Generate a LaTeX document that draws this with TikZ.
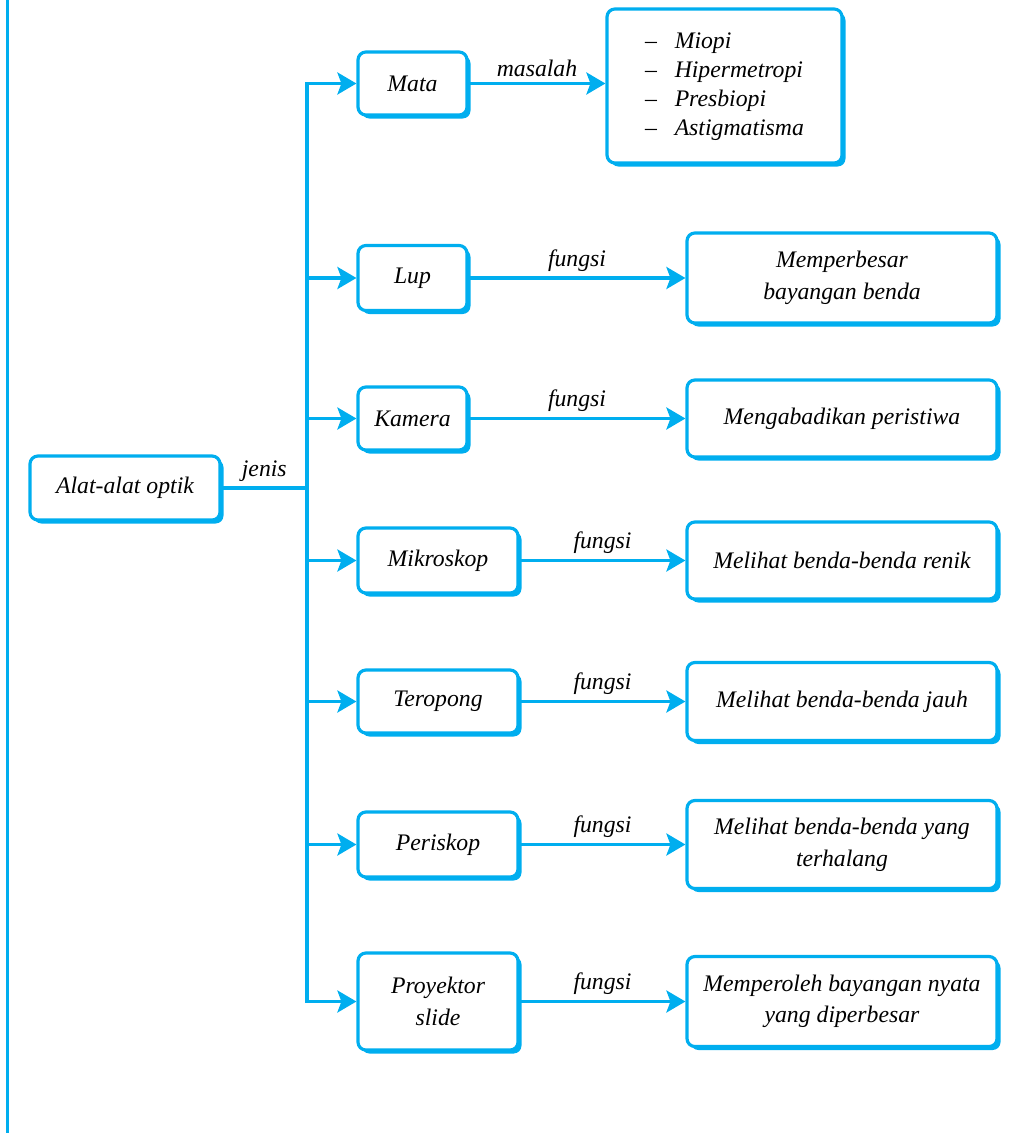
\documentclass[tikz,border=0pt]{standalone}
\usepackage{fontspec}
\setmainfont{Liberation Serif}
\usetikzlibrary{arrows.meta,shadows}
\definecolor{ocyan}{RGB}{0,174,239}
\tikzset{
  kotak/.style={draw=ocyan,line width=1.8pt,fill=white,rounded corners=4.5pt,align=center,inner sep=2pt,
    drop shadow={shadow xshift=2pt,shadow yshift=-2pt,fill=ocyan,opacity=1}},
  jns/.style={kotak,minimum height=1.26cm},
  fgs/.style={kotak,minimum width=6.2cm},
  ln/.style={draw=ocyan,line width=1.9pt},
  ar/.style={ln,-{Stealth[length=0.38cm,width=0.44cm,inset=0.08cm]}},
  lbl/.style={midway,above,inner sep=3pt},
}
\begin{document}
\begin{tikzpicture}[every node/.style={font=\fontsize{13.5}{18}\selectfont\itshape}]
\useasboundingbox (0,0) rectangle (20.54,-22.72);
% frame line on the left
\coordinate (fr_top) at (0.15,0.00);
\coordinate (fr_bot) at (0.15,-22.66);
\draw[ln] (fr_top) -- (fr_bot);
% root and trunk
\node[kotak,minimum width=3.8cm,minimum height=1.28cm] (n_alat) at (2.50,-9.76) {Alat-alat optik};
\coordinate (tk_top) at (6.14,-1.67);
\coordinate (tk_mid) at (6.14,-9.76);
\coordinate (tk_bot) at (6.14,-20.03);
% jenis
\node[jns,minimum width=2.18cm] (n_mata) at (8.25,-1.67) {Mata};
\node[jns,minimum width=2.18cm,minimum height=1.30cm] (n_lup) at (8.25,-5.56) {Lup};
\node[jns,minimum width=2.18cm] (n_kamera) at (8.25,-8.37) {Kamera};
\node[jns,minimum width=3.2cm,minimum height=1.30cm] (n_mikro) at (8.76,-11.21) {Mikroskop};
\node[jns,minimum width=3.2cm] (n_teropong) at (8.76,-14.03) {Teropong};
\node[jns,minimum width=3.2cm,minimum height=1.30cm] (n_periskop) at (8.76,-16.89) {Periskop};
\node[jns,minimum width=3.2cm,minimum height=1.94cm] (n_proyektor) at (8.76,-20.03) {Proyektor\\slide};
% fungsi / masalah
\node[kotak,minimum width=4.7cm,minimum height=3.08cm] (n_masalah) at (14.49,-1.72)
  {\begin{tabular}{@{}l@{\hspace{0.75em}}l@{}}
   \upshape --&Miopi\\[-1.5pt]
   \upshape --&Hipermetropi\\[-1.5pt]
   \upshape --&Presbiopi\\[-1.5pt]
   \upshape --&Astigmatisma
   \end{tabular}};
\node[fgs,minimum height=1.8cm] (n_lupf) at (16.84,-5.56) {Memperbesar\\bayangan benda};
\node[fgs,minimum height=1.54cm] (n_kameraf) at (16.84,-8.37) {Mengabadikan peristiwa};
\node[fgs,minimum height=1.54cm] (n_mikrof) at (16.84,-11.21) {Melihat benda-benda renik};
\node[fgs,minimum height=1.56cm] (n_teropongf) at (16.84,-14.03) {Melihat benda-benda jauh};
\node[fgs,minimum height=1.76cm] (n_periskopf) at (16.84,-16.89) {Melihat benda-benda yang\\terhalang};
\node[fgs,minimum height=1.8cm] (n_proyektorf) at (16.84,-20.03) {Memperoleh bayangan nyata\\yang diperbesar};
% connectors
\draw[ln] (n_alat) -- node[lbl] {jenis} (tk_mid);
\draw[ln,line cap=rect] (tk_top) -- (tk_bot);
\draw[ar] (tk_top) -- (n_mata);
\draw[ar] (n_lup -| tk_top) -- (n_lup);
\draw[ar] (n_kamera -| tk_top) -- (n_kamera);
\draw[ar] (n_mikro -| tk_top) -- (n_mikro);
\draw[ar] (n_teropong -| tk_top) -- (n_teropong);
\draw[ar] (n_periskop -| tk_top) -- (n_periskop);
\draw[ar] (tk_bot) -- (n_proyektor);
\draw[ar] (n_mata) -- node[lbl] {masalah} (n_mata -| n_masalah.west);
\draw[ar] (n_lup) -- node[lbl] {fungsi} (n_lupf);
\draw[ar] (n_kamera) -- node[lbl] {fungsi} (n_kameraf);
\draw[ar] (n_mikro) -- node[lbl] {fungsi} (n_mikrof);
\draw[ar] (n_teropong) -- node[lbl] {fungsi} (n_teropongf);
\draw[ar] (n_periskop) -- node[lbl] {fungsi} (n_periskopf);
\draw[ar] (n_proyektor) -- node[lbl] {fungsi} (n_proyektorf);
\end{tikzpicture}
\end{document}
